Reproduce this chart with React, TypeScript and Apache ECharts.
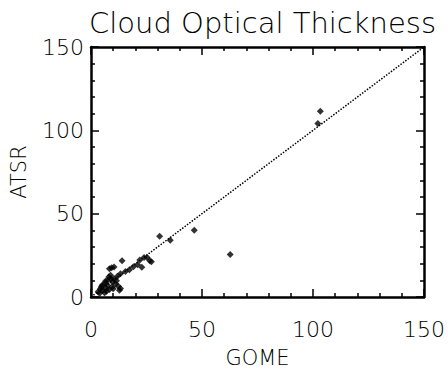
import React, { useEffect, useRef } from "react";
import * as echarts from "echarts";

const titleText = "Cloud Optical Thickness";
const xName = "GOME";
const yName = "ATSR";
const axisTicks = [0, 50, 100, 150];

// GOME (x) and ATSR (y) cloud optical thickness pairs
const gome = [
  103.3, 102.2, 46.5, 62.7, 30.9, 35.7,
  14.0, 15.5, 17.3, 19.1, 21.0, 22.0, 23.9, 25.3, 26.5, 27.2, 22.9,
  8.3, 9.3, 10.4, 13.3, 11.9,
  3.2, 4.6, 6.1, 7.5, 9.0, 10.4, 9.7, 11.1, 12.3, 13.3, 5.3, 6.8, 3.9, 7.5, 8.3, 6.1,
  5.0, 6.5, 8.0, 9.5, 10.0, 7.0, 4.2, 12.8, 11.5, 8.8,
];
const atsr = [
  111.4, 104.1, 40.0, 25.5, 36.5, 34.0,
  21.8, 15.3, 16.3, 18.2, 19.4, 22.2, 23.7, 23.7, 21.8, 21.2, 17.8,
  17.0, 17.5, 18.0, 13.9, 12.4,
  3.1, 6.0, 8.0, 10.0, 11.0, 11.0, 9.0, 8.0, 6.5, 5.1, 4.1, 5.1, 2.2, 7.0, 4.5, 2.5,
  7.0, 9.5, 12.0, 6.0, 5.0, 3.5, 4.8, 4.0, 9.8, 13.0,
];
const oneToOneX = [0, 150];
const oneToOneY = [0, 150];

const font = "DejaVu Sans";

export default function App() {
  const ref = useRef<HTMLDivElement>(null);
  useEffect(() => {
    if (!ref.current) return;
    const chart = echarts.init(ref.current, null, { renderer: "svg" });
    const points = gome.map((g, i) => [g, atsr[i]]);
    const line = oneToOneX.map((x, i) => [x, oneToOneY[i]]);
    const baseAxis = {
      type: "value" as const,
      min: 0,
      max: 150,
      interval: 50,
      minorTick: { show: true, splitNumber: 5, length: 4, lineStyle: { color: "#000", width: 1.5 } },
      axisLine: { show: true, onZero: false, lineStyle: { color: "#000", width: 2.5 } },
      axisTick: { show: true, inside: true, length: 8, lineStyle: { color: "#000", width: 1.5 } },
      splitLine: { show: false },
    };
    chart.setOption({
      animation: false,
      backgroundColor: "#fff",
      title: {
        text: titleText,
        left: 84,
        top: 3,
        textStyle: { fontFamily: font, fontWeight: 200, fontSize: 29, color: "#000" },
      },
      grid: { left: 89, right: 14, top: 47, bottom: 71 },
      xAxis: [
        {
          ...baseAxis,
          position: "bottom",
          name: xName,
          nameLocation: "middle",
          nameGap: 50,
          nameTextStyle: { fontFamily: font, fontWeight: 200, fontSize: 21, color: "#000" },
          axisLabel: {
            show: true,
            margin: 21,
            fontFamily: font,
            fontWeight: 200,
            fontSize: 22,
            color: "#000",
            customValues: axisTicks,
          },
        },
        { ...baseAxis, position: "top", axisLabel: { show: false } },
      ],
      yAxis: [
        {
          ...baseAxis,
          position: "left",
          name: yName,
          nameLocation: "middle",
          nameGap: 62,
          nameTextStyle: { fontFamily: font, fontWeight: 200, fontSize: 21, color: "#000" },
          axisLabel: {
            show: true,
            margin: 7,
            fontFamily: font,
            fontWeight: 200,
            fontSize: 22,
            color: "#000",
          },
        },
        { ...baseAxis, position: "right", axisLabel: { show: false } },
      ],
      series: [
        {
          type: "line",
          data: line,
          symbol: "none",
          lineStyle: { color: "#000", width: 1.5, type: [1.5, 1.5] },
          silent: true,
        },
        {
          type: "scatter",
          data: points,
          symbol: "diamond",
          symbolSize: 7,
          itemStyle: { color: "#000" },
        },
      ],
    });
    return () => chart.dispose();
  }, []);
  return (
    <div
      ref={ref}
      style={{ position: "fixed", left: 0, top: 0, width: 448, height: 373 }}
    />
  );
}
